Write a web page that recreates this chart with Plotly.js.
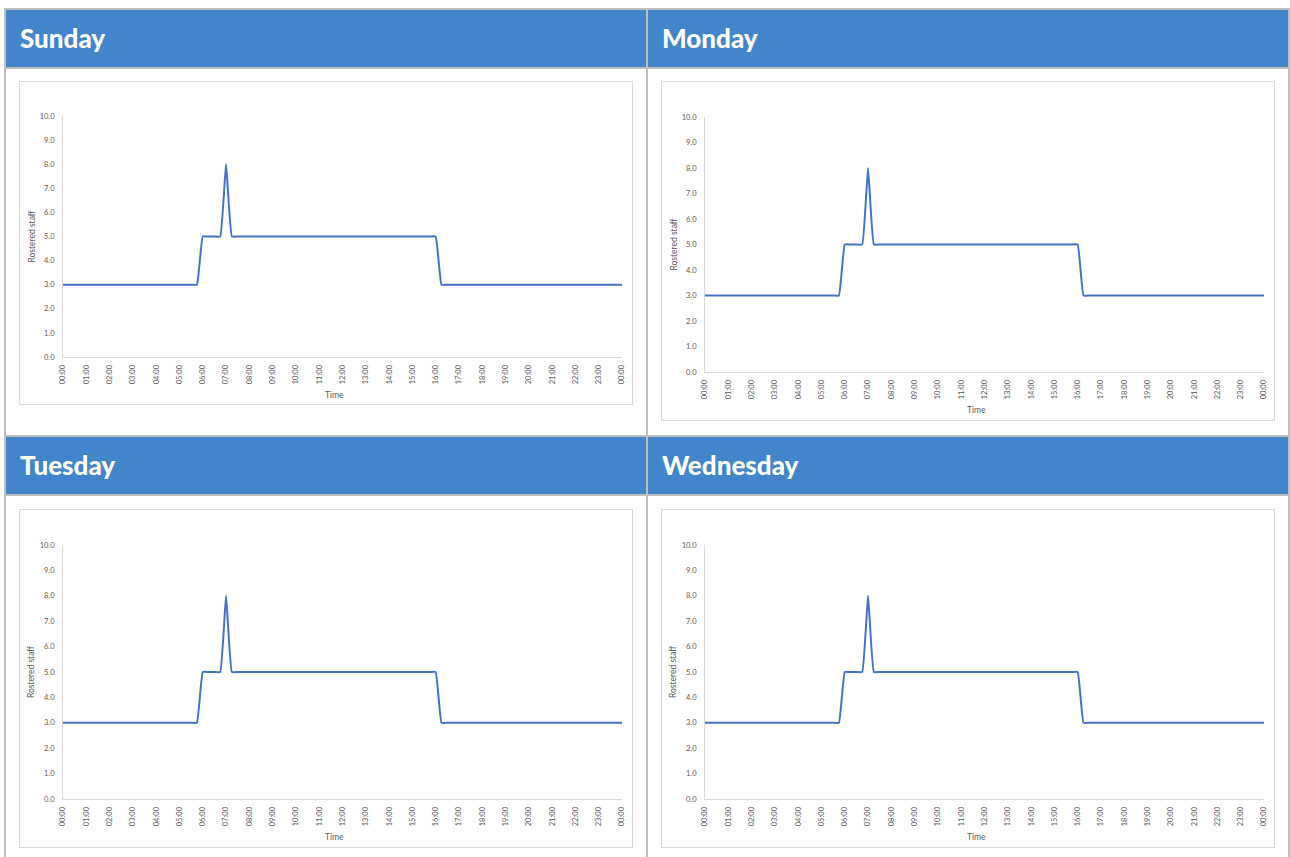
<!DOCTYPE html>
<html>
<head>
<meta charset="utf-8">
<script src="https://cdn.plot.ly/plotly-3.0.1.min.js"></script>
<style>
  html, body { margin: 0; padding: 0; background: #ffffff; width: 1290px; height: 857px; overflow: hidden; }
  .frame { position: absolute; left: 4px; top: 8px; width: 1286px; height: 870px; background: #bfbfbf; }
  .cell { position: absolute; background: #ffffff; }
  .head { position: absolute; background: #4285cb; color: #ffffff; font-family: Lato, "Open Sans", sans-serif;
          font-weight: 900; font-size: 26px; line-height: 57px; height: 57px; box-sizing: border-box; padding-left: 14px; }
  .plot { position: absolute; }
  .box { position: absolute; border: 1px solid #d9d9d9; box-sizing: border-box; pointer-events: none; }
</style>
</head>
<body>
<div class="frame"></div>
<div class="head" style="left:6px; top:10px; width:640px;">Sunday</div>
<div class="head" style="left:648px; top:10px; width:640px;">Monday</div>
<div class="cell" style="left:6px; top:69px; width:640px; height:366px;"></div>
<div class="cell" style="left:648px; top:69px; width:640px; height:366px;"></div>
<div class="head" style="left:6px; top:437px; width:640px;">Tuesday</div>
<div class="head" style="left:648px; top:437px; width:640px;">Wednesday</div>
<div class="cell" style="left:6px; top:496px; width:640px; height:400px;"></div>
<div class="cell" style="left:648px; top:496px; width:640px; height:400px;"></div>

<div id="sun" class="plot" style="left:19px; top:81px; width:613px; height:323px;"></div>
<div class="box" style="left:19px; top:81px; width:614px; height:324px;"></div>
<div id="mon" class="plot" style="left:661px; top:81px; width:613px; height:339px;"></div>
<div class="box" style="left:661px; top:81px; width:614px; height:340px;"></div>
<div id="tue" class="plot" style="left:19px; top:509px; width:613px; height:338px;"></div>
<div class="box" style="left:19px; top:509px; width:614px; height:339px;"></div>
<div id="wed" class="plot" style="left:661px; top:509px; width:613px; height:338px;"></div>
<div class="box" style="left:661px; top:509px; width:614px; height:339px;"></div>

<script>
// Time slots (15-minute intervals over one day)
const times = [
  "00:00","00:15","00:30","00:45","01:00","01:15","01:30","01:45",
  "02:00","02:15","02:30","02:45","03:00","03:15","03:30","03:45",
  "04:00","04:15","04:30","04:45","05:00","05:15","05:30","05:45",
  "06:00","06:15","06:30","06:45","07:00","07:15","07:30","07:45",
  "08:00","08:15","08:30","08:45","09:00","09:15","09:30","09:45",
  "10:00","10:15","10:30","10:45","11:00","11:15","11:30","11:45",
  "12:00","12:15","12:30","12:45","13:00","13:15","13:30","13:45",
  "14:00","14:15","14:30","14:45","15:00","15:15","15:30","15:45",
  "16:00","16:15","16:30","16:45","17:00","17:15","17:30","17:45",
  "18:00","18:15","18:30","18:45","19:00","19:15","19:30","19:45",
  "20:00","20:15","20:30","20:45","21:00","21:15","21:30","21:45",
  "22:00","22:15","22:30","22:45","23:00","23:15","23:30","23:45",
  "00:00"
];

// Rostered staff per slot (one row per hour: :00, :15, :30, :45)
const sundayStaff = [
  3,3,3,3, 3,3,3,3, 3,3,3,3, 3,3,3,3, 3,3,3,3, 3,3,3,3,
  5,5,5,5, 8,5,5,5,
  5,5,5,5, 5,5,5,5, 5,5,5,5, 5,5,5,5, 5,5,5,5, 5,5,5,5, 5,5,5,5, 5,5,5,5,
  5,3,3,3,
  3,3,3,3, 3,3,3,3, 3,3,3,3, 3,3,3,3, 3,3,3,3, 3,3,3,3, 3,3,3,3,
  3
];
const mondayStaff = [
  3,3,3,3, 3,3,3,3, 3,3,3,3, 3,3,3,3, 3,3,3,3, 3,3,3,3,
  5,5,5,5, 8,5,5,5,
  5,5,5,5, 5,5,5,5, 5,5,5,5, 5,5,5,5, 5,5,5,5, 5,5,5,5, 5,5,5,5, 5,5,5,5,
  5,3,3,3,
  3,3,3,3, 3,3,3,3, 3,3,3,3, 3,3,3,3, 3,3,3,3, 3,3,3,3, 3,3,3,3,
  3
];
const tuesdayStaff = [
  3,3,3,3, 3,3,3,3, 3,3,3,3, 3,3,3,3, 3,3,3,3, 3,3,3,3,
  5,5,5,5, 8,5,5,5,
  5,5,5,5, 5,5,5,5, 5,5,5,5, 5,5,5,5, 5,5,5,5, 5,5,5,5, 5,5,5,5, 5,5,5,5,
  5,3,3,3,
  3,3,3,3, 3,3,3,3, 3,3,3,3, 3,3,3,3, 3,3,3,3, 3,3,3,3, 3,3,3,3,
  3
];
const wednesdayStaff = [
  3,3,3,3, 3,3,3,3, 3,3,3,3, 3,3,3,3, 3,3,3,3, 3,3,3,3,
  5,5,5,5, 8,5,5,5,
  5,5,5,5, 5,5,5,5, 5,5,5,5, 5,5,5,5, 5,5,5,5, 5,5,5,5, 5,5,5,5, 5,5,5,5,
  5,3,3,3,
  3,3,3,3, 3,3,3,3, 3,3,3,3, 3,3,3,3, 3,3,3,3, 3,3,3,3, 3,3,3,3,
  3
];

const yTitle = "Rostered staff";
const xTitle = "Time";

const slotIdx = times.map((t, i) => i);
const tickIdx = slotIdx.filter(i => times[i].endsWith(":00"));
const tickTxt = tickIdx.map(i => times[i]);

function draw(id, staff, h, mt, mb) {
  const plotH = h - mt - mb;
  const fontAxis = { family: "Lato, 'Open Sans', sans-serif", size: 7.5, color: "#595959" };
  const trace = {
    x: slotIdx, y: staff, type: "scatter", mode: "lines",
    line: { color: "#4472c4", width: 2, shape: "spline", smoothing: 0.3 },
    hoverinfo: "skip"
  };
  const layout = {
    width: 613, height: h,
    margin: { l: 44, r: 10, t: mt, b: mb, pad: 0 },
    paper_bgcolor: "#ffffff", plot_bgcolor: "#ffffff",
    showlegend: false,
    xaxis: {
      range: [0, 96], tickmode: "array", tickvals: tickIdx, ticktext: tickTxt,
      tickangle: -90, ticks: "", showgrid: false, zeroline: false,
      showline: true, linecolor: "#d9d9d9", linewidth: 1, ticklabelstandoff: 4,
      tickfont: fontAxis, automargin: false, fixedrange: true
    },
    yaxis: {
      range: [0, 10], dtick: 1, tickformat: ".1f", ticks: "", showgrid: false, zeroline: false,
      showline: true, linecolor: "#d9d9d9", linewidth: 1, ticklabelstandoff: 6,
      tickfont: fontAxis, automargin: false, fixedrange: true
    },
    annotations: [
      { text: yTitle, xref: "paper", yref: "paper", x: -32 / 559, y: 0.5, xanchor: "center", yanchor: "middle",
        textangle: -90, showarrow: false, font: { family: "Lato, 'Open Sans', sans-serif", size: 8.5, color: "#595959" } },
      { text: xTitle, xref: "paper", yref: "paper", x: 0.485, y: -38 / plotH, xanchor: "center", yanchor: "middle",
        showarrow: false, font: { family: "Lato, 'Open Sans', sans-serif", size: 8.5, color: "#595959" } }
    ]
  };
  Plotly.newPlot(id, [trace], layout, { staticPlot: true, displayModeBar: false });
}

draw("sun", sundayStaff, 323, 35, 47);
draw("mon", mondayStaff, 339, 36, 48);
draw("tue", tuesdayStaff, 338, 36, 48);
draw("wed", wednesdayStaff, 338, 36, 48);
</script>
</body>
</html>
